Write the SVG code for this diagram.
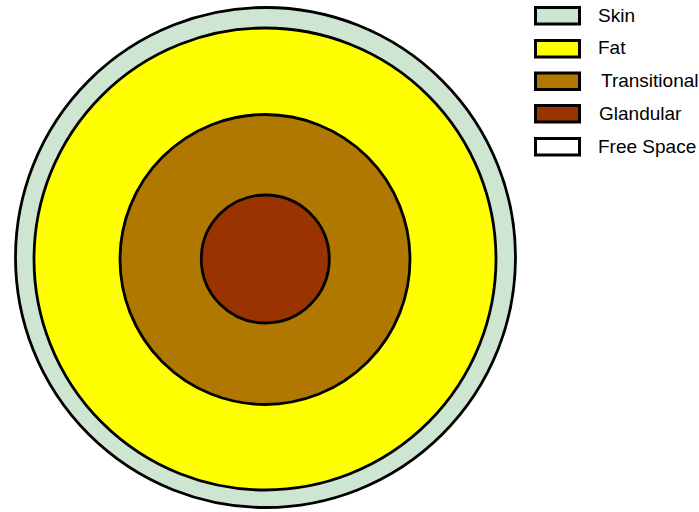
<svg xmlns="http://www.w3.org/2000/svg" width="699" height="512" viewBox="0 0 699 512">
<style>
.c{stroke:#000;stroke-width:2.8}
.b{stroke:#000;stroke-width:3}
.t{font-family:"Liberation Sans",Arial,sans-serif;font-size:19px;fill:#000}
.skin{fill:#CDE5D1}.fat{fill:#FFFF00}.tra{fill:#B07800}.gla{fill:#993300}.fre{fill:#FFFFFF}
</style>
<rect width="699" height="512" fill="#fff"/>
<g id="skin"><circle class="c skin" cx="265.5" cy="257.5" r="250"/></g>
<g id="fat"><circle class="c fat" cx="265" cy="259" r="231"/></g>
<g id="transitional"><circle class="c tra" cx="265" cy="259.5" r="145"/></g>
<g id="glandular"><circle class="c gla" cx="265.3" cy="259" r="64"/></g>
<g id="connectors"></g>
<g id="legend">
<g id="legend-skin"><rect class="b skin" x="535.5" y="7.5" width="44" height="16.5"/><text class="t" x="598" y="21.5">Skin</text></g>
<g id="legend-fat"><rect class="b fat" x="535.5" y="40.5" width="44" height="16.5"/><text class="t" x="598" y="54">Fat</text></g>
<g id="legend-transitional"><rect class="b tra" x="535.5" y="73" width="44" height="16.5"/><text class="t" x="601" y="87">Transitional</text></g>
<g id="legend-glandular"><rect class="b gla" x="535.5" y="105.5" width="44" height="16.5"/><text class="t" x="599" y="119.5">Glandular</text></g>
<g id="legend-free"><rect class="b fre" x="535.5" y="138.5" width="44" height="16.5"/><text class="t" x="598" y="152.5">Free Space</text></g>
</g>
</svg>
